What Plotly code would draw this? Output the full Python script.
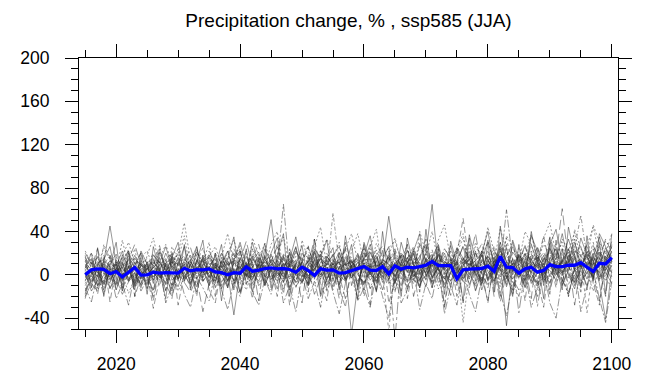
import plotly.graph_objects as go

years = list(range(2015, 2101))

ens_mean = [0, 4.6, 5.5, 5, 1, 3, -2, 2.5, 6.7, -0.3,
            0, 2.4, 1.5, 2, 2, 1.5, 6, 3.6, 4.8, 4.6,
            5.5, 2.7, 2, 0, 2, 1.5, 7.3, 3.3, 4.3, 5.8,
            6.4, 5.5, 5.8, 4.9, 2.4, 7, 4, -0.6, 5.5, 4.3,
            4.6, 1.5, 2.1, 4, 5.5, 7.6, 4.3, 4, 7.6, 0.9,
            8.2, 5.2, 7, 6.4, 7.6, 8.8, 12.4, 8.5, 8.5, 8.5,
            -3.6, 4.6, 5.2, 5.5, 5.8, 7.9, 3.3, 17, 7, 6.7,
            1.5, 5.5, 7, 2.4, 4, 9.4, 7.6, 7.6, 8.8, 8.8,
            11.2, 7, 3, 10.6, 10, 15.8]

m01 = [8, 15, 2, 12, 45, 10, -5, 6, 18, 3, -8, 12, 4, 20, 7, -3, 14, 9, 1, 16,
       5, -6, 11, 22, 3, 8, -2, 15, 6, 12, 19, 4, -7, 10, 25, 2, 13, 6, -4, 17,
       9, 21, 0, 12, 5, 28, 7, -8, 14, 10, 3, 18, 11, 24, 6, -5, 15, 9, 20, 2,
       13, 26, 4, 10, -6, 17, 8, 22, 12, 3, 19, 7, 28, 11, 0, 15, 24, 6, 13, 30,
       9, 17, 4, 21, 14, 26]
m02 = [-5, 3, -12, 8, -2, 10, -15, 4, -6, 9, 1, -31, -4, 6, -10, 2, 12, -7, 5, -3,
       8, -12, 0, 14, -6, 3, -9, 7, 18, -2, 5, -8, 11, -4, 2, 16, -10, 6, 0, 9,
       -14, 4, 12, -3, 7, -8, 15, 2, -5, 10, -2, 8, -11, 5, 14, 0, -6, 11, 3, -9,
       6, 17, -4, 9, 2, -12, 13, 5, -7, 10, 1, -5, 8, 16, -3, 11, 4, -10, 7, 19,
       -2, 9, 14, -6, 5, 12]
m03 = [12, 20, 8, 25, 14, 3, 18, 30, 10, 16, 22, 6, 15, 28, 11, 19, 48, 13, 24, 7,
       17, 26, 9, 20, 32, 12, 5, 23, 15, 29, 10, 18, 35, 8, 21, 14, 27, 4, 19, 33,
       16, 9, 24, 38, 12, 20, 7, 29, 17, 25, 31, 13, 22, 6, 27, 18, 40, 11, 24, 15,
       20, 34, 9, 26, 17, 30, 12, 43, 21, 8, 25, 16, 37, 14, 28, 19, 10, 33, 22, 39,
       15, 27, 44, 18, 31, 24]
m04 = [2, -8, 10, 5, -4, 14, 0, 7, -10, 11, 4, 16, -3, 8, 20, 1, -6, 12, 3, 18,
       -2, 9, 5, -11, 13, 6, 22, 0, 10, -4, 15, 8, 65, 3, -7, 12, 19, -1, 7, 14,
       2, -9, 16, 6, 11, -3, 20, 8, 1, 13, 24, 5, -6, 15, 9, 2, 18, -4, 12, 7,
       -10, 14, 21, 3, 10, -5, 17, 6, 25, 0, 11, 19, 2, -8, 15, 8, 28, 4, -3, 16,
       9, 22, -1, 13, 6, 18]
m05 = [-10, 0, 6, -14, 4, -8, 10, -3, 2, -12, 7, -5, 12, -2, -15, 5, 0, -9, 14, 3,
       -6, 9, -13, 2, -37, 4, 11, -4, 8, 18, 51, 6, -2, 13, 0, -7, 9, 16, 3, -10,
       5, 12, -4, 8, -11, 15, 1, -6, 10, 4, -8, 13, 2, 20, -5, 7, -12, 11, 4, 16,
       -3, 8, 14, 0, 22, -6, 10, 5, -9, 15, 3, -11, 12, 7, 18, -2, 9, 24, 1, -7,
       14, 5, 20, -4, 11, 2]
m06 = [-20, -8, -15, 2, -12, -4, -18, -6, 5, -10, -2, -14, 4, -9, -20, 0, -7, -16, -3, -34,
       -8, 3, -12, -5, 6, -15, -2, 8, -10, -4, -14, 2, -6, 10, -11, -1, 5, -18, -3, 7,
       -9, 0, -22, 4, -6, 9, -13, -2, 6, -8, 1, -15, 8, -4, -10, 3, 12, -7, -1, -19,
       5, -6, -12, 10, 0, -9, 4, -25, 2, -4, -14, 7, -3, -20, 3, -8, 11, -5, -16, 0,
       -10, 6, -2, -24, 8, -5]
m07 = [6, 14, -2, 9, 18, 3, 11, -5, 7, 21, 2, 10, 16, -4, 8, 24, 5, 13, -1, 9,
       19, 6, 12, 0, 15, 27, 4, 10, -3, 14, 8, 20, 2, 13, 5, -6, 17, 9, 23, 1,
       57, 11, 4, 16, 7, 21, -2, 12, 6, 18, 10, 3, 15, 26, 8, -4, 13, 19, 5, 11,
       22, 7, 0, 16, 29, 9, 14, 3, 18, 6, 12, 26, 8, -5, 17, 11, 20, 2, 15, 33,
       7, 19, 12, 27, 4, 16]
m08 = [-3, 5, -10, 0, 8, -14, 2, -6, 12, -1, -9, 4, -2, 11, -13, 6, -4, 1, -11, 7,
       0, -8, 13, -5, 3, -16, 9, -2, 5, -10, 4, -6, 10, -12, 1, 7, -3, 14, -20, -4,
       6, -9, 2, -55, -8, 11, -5, 3, -14, 8, -1, 10, -7, 4, -12, 15, -2, 6, -9, 1,
       12, -4, 7, -15, 3, 9, -6, 16, -11, 5, -3, 13, -8, 2, 10, -14, 6, -1, 18, -7,
       4, -10, 11, 1, -5, 9]
m09 = [14, 2, 7, -6, 10, 17, 0, 12, 5, -3, 9, 20, 3, 13, -2, 8, 16, 1, 11, 25,
       4, -7, 14, 6, 19, 2, 10, -4, 15, 7, 12, 28, 0, 9, 17, 4, -5, 11, 6, 20,
       2, 15, 8, -3, 13, 24, 6, 10, 1, -52, 9, 18, 3, 12, -6, 16, 7, 27, 0, 14,
       8, -2, 19, 11, 4, 23, 1, 13, 34, 6, 17, 5, 10, -9, 14, 22, 3, 12, 8, -4,
       19, 10, 30, 2, 15, 7]
m10 = [0, -12, 8, 3, -7, 6, -2, 15, -9, 4, 10, -5, 1, -14, 7, 12, -3, 5, 18, -6,
       2, 11, -10, 6, 0, 14, -8, 3, 9, -1, -7, 5, 16, 1, -12, 8, 3, -4, 12, 6,
       10, -2, 7, 14, 2, -9, 5, 19, 0, 6, -60, 12, 4, -6, 9, 1, 17, -3, 8, 13,
       -5, 10, 2, -11, 14, 6, 21, -2, 4, 11, 8, -6, 15, 3, -4, 12, 0, 19, 9, -10,
       6, 13, -2, 10, 23, 3]
m11 = [20, 10, 16, 4, 13, 8, 22, 1, 15, 9, 5, 18, 11, 26, 7, 14, -2, 10, 21, 12,
       16, 3, 20, 9, 13, 30, 8, 17, 2, 24, 11, 6, 19, 14, 35, 7, 12, 22, 4, 10,
       18, 26, 9, 13, 3, 16, 21, 8, 11, 54, 14, 5, 23, 10, 17, 28, 2, 19, 12, 8,
       25, 15, 6, 20, 11, 32, 9, 16, 4, 21, 13, 27, 10, 18, 6, 24, 14, 38, 11, 20,
       26, 8, 16, 35, 12, 22]
m12 = [-15, -4, 5, -9, 2, 12, -6, 8, -11, 0, 6, -2, 9, 15, -5, 1, 10, -8, 4, 13,
       -3, 7, 0, -12, 11, 5, 17, 2, -6, 8, 14, -1, 6, 21, 3, -8, 10, 4, 15, -3,
       7, 12, -5, 2, 18, 9, 0, 13, -7, 5, 11, 3, 16, -2, 8, 20, 65, 6, -4, 12,
       2, 9, 15, 1, -8, 13, 5, 24, -3, 10, 17, 4, -6, 11, 7, 29, 0, 14, 21, 3,
       9, -4, 16, 8, 25, 12]
m13 = [4, 11, -3, 16, 7, 0, 13, 22, 5, 10, 15, 8, 27, 3, 12, -4, 9, 18, 6, 14,
       1, 20, 10, 5, 24, 12, -1, 16, 28, 7, 9, 13, 4, 19, 0, 11, 26, 8, 15, 2,
       14, 5, 30, 10, 17, 3, 12, 23, 9, 16, 6, 21, 11, 2, 15, 33, 8, 18, 4, 13,
       19, 52, 10, 5, 22, 14, 0, 17, 9, 26, 11, 3, 19, 12, 36, 7, 15, 2, 24, 10,
       16, 28, 6, 19, 11, 31]
m14 = [-8, 2, -14, -4, 6, -10, 1, -17, -3, 8, -12, 0, 5, -7, 3, -15, -2, 9, -9, -1,
       6, -11, 2, -5, 12, -3, -14, 4, -8, 0, -4, 9, -13, 1, -6, 14, -2, -10, 5, -16,
       3, -7, 10, -1, -24, 6, -12, 2, 8, -5, -15, 4, -3, 11, -9, 0, 7, -13, 3, -6,
       10, -44, 1, -8, 6, -3, 13, -11, 2, -18, 5, -4, 9, -14, 0, 12, -7, 3, -20, 6,
       -9, 2, -15, 8, -3, -12]
m15 = [10, -2, 18, 6, -8, 12, 3, 9, -5, 14, 0, 7, -10, 11, 4, 16, 8, -3, 13, 2,
       9, 15, -1, 7, -9, 10, 3, 19, 5, 12, -6, 8, 14, 2, 10, -3, 6, 21, 0, 11,
       4, 17, -7, 9, 13, 1, 24, 5, -2, 15, 8, -4, 12, 19, 3, 10, -8, 14, 6, 22,
       1, 11, 17, 4, -5, 9, 15, 7, 60, 13, 3, 20, 6, 10, -7, 16, 8, 1, 14, 26,
       5, 12, 9, 18, -1, 14]
m16 = [5, -6, 0, 10, -13, 3, 7, -4, 1, -9, 12, 2, -5, 8, -1, -11, 6, 14, -3, 4,
       -10, 1, 9, -6, 5, 0, 12, -8, 3, 16, 2, -13, 7, -2, 11, 4, -9, 1, 8, -5,
       13, 0, -6, 9, 3, -14, 10, -3, 6, 17, -7, 4, 10, -1, 2, -11, 14, 5, -4, 9,
       0, 12, -9, 6, 18, 3, -6, 10, -47, 7, -2, 15, 1, -10, 8, 4, -5, 13, 0, -13,
       11, 6, -3, 16, 2, -8]
m17 = [16, 7, 24, 2, 11, 19, 5, 14, 28, 9, 3, 13, 21, 8, 17, 0, 12, 25, 6, 15,
       22, 10, 4, 18, 9, 13, 31, 7, 16, 3, 12, 26, 8, 15, 1, 20, 10, 33, 5, 17,
       9, 14, 23, 6, 19, 11, 2, 18, 27, 13, 20, 8, 16, 4, 29, 12, 19, 7, 24, 15,
       10, 27, 13, 38, 5, 18, 23, 11, 16, 30, 8, 20, 14, 25, 10, 35, 17, 61, 12, 22,
       18, 9, 27, 14, 33, 20]
m18 = [-6, 9, 4, -11, 13, 1, -3, 17, 6, -8, 8, 3, 14, -2, 10, 20, -6, 5, 11, 0,
       13, -4, 7, 22, 1, -9, 10, 6, 14, -2, 5, 17, -7, 9, 3, 12, 25, -4, 8, 13,
       -1, 6, 15, 2, -9, 11, 7, 20, -3, 4, 16, 9, -5, 13, 1, 8, 23, 3, 17, -6,
       10, 4, 28, -2, 12, 7, -10, 19, 5, 14, -4, 9, 22, 6, 13, -8, 17, 3, 10, 24,
       55, 15, 8, 2, 20, 11]
m19 = [3, -15, -5, 7, -2, -9, 12, -6, 0, 5, -13, 9, -1, -8, 14, -4, 6, 2, -16, 8,
       -2, 11, -7, 3, -12, 7, 0, -5, 13, -9, 6, -3, 2, -14, 9, 1, -8, 15, -2, 4,
       -11, 8, -4, 12, 0, -7, 3, -15, 10, -2, 5, -10, 13, 0, -6, 16, -3, 8, -12, 2,
       -8, 6, -2, 11, -14, 1, 9, -20, 12, -4, 7, -12, 3, 14, -5, 0, 10, -9, 4, 17,
       -6, 2, 12, -8, -41, 5]
m20 = [12, 4, 9, 18, 0, 7, -4, 10, 15, 2, 11, -3, 6, 13, 21, 8, 1, 16, 4, -7,
       8, 14, 19, 3, -5, 12, 7, 24, 0, 10, 17, 1, 11, 6, 14, -8, 9, 3, 22, 7,
       -4, 13, 18, 5, 10, 26, 2, -6, 14, 9, 3, 20, 7, -9, 12, 5, 16, 24, 1, 10,
       14, -6, 8, 20, 3, 11, 27, 6, -2, 15, 9, 17, -4, 12, 21, 5, 13, 0, 19, 8,
       16, -35, 10, 22, 4, 13]
m21 = [-2, 6, 13, -7, 4, 10, -12, 3, 8, -4, 5, 14, -1, 2, -9, 11, 18, -5, 7, 1,
       12, -3, 6, 15, -8, 4, 9, -11, 2, 17, -5, 10, 3, -9, 14, 6, -2, 8, 19, -7,
       11, -3, 5, 13, 1, -10, 8, 16, 4, -4, 9, 2, -13, 7, 18, -1, 11, 4, -8, 14,
       6, -3, 12, 2, 9, 17, -5, 7, 1, 11, -35, 4, 15, -29, 6, 10, -2, 14, -9, 5,
       12, 0, 18, -5, 9, 21]
m22 = [8, 1, 11, 14, -5, 5, 16, 0, 9, 20, -1, 7, 12, 4, 15, 9, 26, 3, -4, 10,
       6, 18, 2, 11, -6, 16, 5, 13, 21, 0, 10, 4, 17, 7, 22, 12, -1, 6, 15, 9,
       19, 3, 11, -3, 8, 14, 28, 7, 12, 1, 11, 16, 5, 22, 0, 13, 7, 18, 10, 27,
       4, 15, 9, 13, 20, -4, 8, 30, 12, 6, 18, 11, 2, 16, 9, 25, 6, 12, 33, 14,
       7, 21, 13, -2, 17, 10]
m23 = [18, -12, 25, -20, 8, 30, -15, 22, -8, 16, -18, 26, 4, -22, 19, -6, 28, -14, 12, 32,
       -10, 20, -24, 14, 35, -5, 24, -16, 9, 29, -12, 18, 38, -20, 10, 27, -8, 33, -18, 15,
       25, -14, 36, 4, -22, 30, 12, -16, 40, -6, 22, -20, 34, 8, -12, 42, -4, 26, -18, 31,
       10, -24, 37, 14, -10, 30, -16, 45, 2, -20, 28, -8, 40, 12, -22, 34, 6, -14, 44, 18,
       -12, 36, -4, 30, -18, 38]
m24 = [-22, 4, -18, 14, -25, 8, -10, 20, -20, -2, 12, -24, 6, -15, 16, -28, 2, 10, -20, 18,
       -14, -26, 8, -6, 20, -18, 4, -22, 14, -10, 6, -20, 18, -28, 2, 12, -16, 22, -8, -24,
       15, -12, -30, 8, 20, -20, 4, -14, 24, -26, -6, 18, -22, 10, -16, 26, -10, 2, -28, 14,
       -20, 8, 22, -14, 4, -26, 16, -8, 28, -18, 10, -24, 20, -4, -30, 14, -12, 24, -20, 6,
       -16, 26, -8, -28, 18, -2]
m25 = [22, 10, -6, 28, 15, 2, 32, 6, 24, -4, 18, 34, 8, -10, 26, 14, 36, 2, 20, 10,
       30, -6, 16, 38, 12, 24, -2, 34, 18, 6, 28, 40, 4, 20, -8, 32, 14, 26, 44, 8,
       16, 30, -4, 22, 38, 10, 26, 42, 2, 18, 34, 12, 28, -6, 40, 20, 8, 32, 46, 14,
       24, 38, 6, 30, 16, 44, 22, -2, 36, 26, 12, 40, 28, 8, 34, 48, 18, 30, 4, 42,
       24, 14, 46, 30, 20, 38]
m26 = [-12, -25, 0, -18, 6, -22, -8, -28, 2, -15, -4, -20, 8, -26, -10, 4, -18, -30, -2, -12,
       -24, 2, -14, -32, -6, -20, 6, -16, -28, -4, -18, 8, -26, -10, -34, 0, -22, -6, -30, 4,
       -16, -36, -8, 10, -24, -12, -30, 2, -20, -40, 0, -26, -14, 6, -32, -8, -22, 8, -36, -10,
       -28, 4, -18, -34, -2, -24, 10, -16, -38, -6, -20, 2, -30, -12, 6, -26, -40, -4, -18, 8,
       -34, -10, 4, -22, -44, -6]
m27 = [6, 20, -10, 14, 26, -4, 18, 8, -14, 22, 10, -8, 24, 2, 16, 30, -6, 12, 26, -2,
       18, 6, 28, -12, 14, 22, 0, 30, 8, -8, 20, 34, -4, 12, 26, 2, -10, 24, 16, 32,
       -6, 20, 8, 28, -14, 18, 36, 4, 14, 26, -8, 30, 10, 22, 38, -2, 16, 28, 6, -12,
       24, 12, 34, -6, 20, 40, 8, 26, -4, 32, 14, 2, 36, 22, -10, 28, 42, 10, 24, 4,
       34, 18, -6, 38, 26, 12]
m28 = [-18, 12, 2, -8, 18, -14, 6, 24, -20, 10, 0, -16, 20, 8, -22, 14, 2, -12, 26, -6,
       10, -20, 16, 4, -14, 22, -8, 12, -24, 18, -2, 14, -18, 24, 6, -26, 16, -4, 20, -14,
       8, -22, 26, -10, 12, 2, -28, 18, -6, 22, -16, 10, 28, -20, 4, 14, -12, 24, -30, 8,
       18, -26, 6, 22, -10, 16, -20, 30, 0, -14, 20, 8, -22, 26, 2, -18, 32, -6, 14, -28,
       10, -14, 24, 6, -20, 28]

models = [m01, m02, m03, m04, m05, m06, m07, m08, m09, m10, m11, m12, m13, m14,
          m15, m16, m17, m18, m19, m20, m21, m22, m23, m24, m25, m26, m27, m28]

dashes = ["solid", "6px,3px", "2px,2px", "8px,2px,2px,2px", "solid", "10px,4px",
          "4px,2px,1px,2px", "solid", "3px,3px", "12px,3px,3px,3px", "solid"]

fig = go.Figure()
for i, vals in enumerate(models):
    fig.add_trace(go.Scatter(
        x=years, y=vals, mode="lines",
        line=dict(color="#2e2e2e", width=0.5, dash=dashes[i % len(dashes)]),
        showlegend=False, hoverinfo="skip"))

fig.add_trace(go.Scatter(
    x=years, y=ens_mean, mode="lines",
    line=dict(color="#0000ff", width=3.3),
    showlegend=False))

axis_common = dict(
    showline=True, linecolor="black", linewidth=1, mirror="allticks",
    ticks="outside", ticklen=13, tickwidth=1, tickcolor="black",
    showgrid=False, zeroline=False,
    tickfont=dict(family="Liberation Sans, Arial, sans-serif", size=17.5, color="black"),
)

# page body adds an 8px offset, so the figure is 8px smaller on each axis
fig.update_layout(
    width=660, height=378,
    margin=dict(l=60, r=50, t=50, b=54),
    paper_bgcolor="white", plot_bgcolor="white",
    title=dict(text="Precipitation change, % , ssp585 (JJA)",
               x=0.5, xanchor="center", y=0.968, yanchor="middle",
               xref="paper",
               font=dict(family="Liberation Sans, Arial, sans-serif", size=19, color="black")),
    xaxis=dict(range=[2014, 2101], tickmode="array",
               tickvals=[2020, 2040, 2060, 2080, 2100],
               ticktext=["2020", "2040", "2060", "2080", "2100"],
               minor=dict(tickmode="array",
                          tickvals=[2015, 2025, 2030, 2035, 2045, 2050, 2055, 2065,
                                    2070, 2075, 2085, 2090, 2095],
                          ticks="outside", ticklen=7, tickcolor="black", showgrid=False),
               ticklabelstandoff=6,
               **axis_common),
    yaxis=dict(range=[-50, 200], tickmode="array",
               tickvals=[-40, 0, 40, 80, 120, 160, 200],
               ticktext=["-40", "0", "40", "80", "120", "160", "200"],
               minor=dict(dtick=10, tick0=0, ticks="outside", ticklen=7,
                          tickcolor="black", showgrid=False),
               ticklabelstandoff=12,
               **axis_common),
)

fig.write_html("out.html")
